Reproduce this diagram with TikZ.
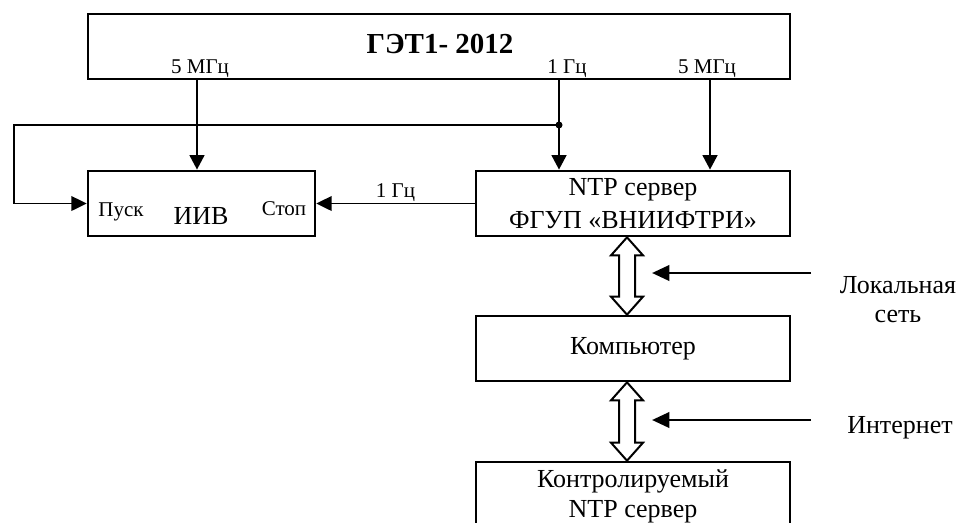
\documentclass[tikz,border=0pt]{standalone}
\usepackage{fontspec}
\setmainfont{Liberation Serif}
\usetikzlibrary{arrows.meta,calc}

\tikzset{every picture/.style={line width=0.75pt}}
\tikzset{
  blockbox/.style={draw, line width=2pt, minimum height=48.75pt, inner sep=0pt},
  sig/.style={line width=2.1pt, -{Triangle[length=11pt,width=11pt]}},
  thinline/.style={line width=1.3pt},
  thinarr/.style={line width=1.3pt, -{Triangle[length=11.5pt,width=11pt]}},
  netarr/.style={line width=2.1pt, -{Triangle[length=13pt,width=11.5pt]}},
  hollow/.style={draw, line width=1.5pt, fill=white, line join=miter},
  bigtxt/.style={font=\fontsize{19.5}{24.75}\selectfont},
  smalltxt/.style={font=\fontsize{15.75}{18}\selectfont},
}
% hollow two-way arrow: top tip, bottom tip
\newcommand{\twoway}[2]{%
  \draw[hollow] (#1) -- ++(16,18) -- ++(-8,0) -- ($(#2)+(8,-18)$) -- ++(8,0) -- (#2)
    -- ++(-16,-18) -- ++(8,0) -- ($(#1)+(-8,18)$) -- ++(-8,0) -- cycle;}

\begin{document}
\begin{tikzpicture}[x=0.75pt,y=0.75pt,yscale=-1,xscale=1]
		\useasboundingbox (0,0) rectangle (962,522);
		\clip (0,0) rectangle (962,522);
		
		%Shape: Rectangle
		\node [blockbox, minimum width=526.5pt] (get) at (439,46.5) {};
		%Shape: Rectangle
		\node [blockbox, minimum width=170.25pt] (iiv) at (201.5,203.5) {};
		%Shape: Rectangle
		\node [blockbox, minimum width=235.5pt, bigtxt, align=center] (ntp) at (633,203.5) {NTP сервер\\ФГУП «ВНИИФТРИ»};
		%Shape: Rectangle
		\node [blockbox, minimum width=235.5pt, bigtxt] (comp) at (633,348.5) {Компьютер};
		%Shape: Rectangle
		\node [blockbox, minimum width=235.5pt, minimum height=60pt] (ctrl) at (633,502) {};
		
		% Text Node
		\node [anchor=base, font=\bfseries\fontsize{21.75}{24}\selectfont] (title) at (440,53) {ГЭТ1- 2012};
		% Text Node
		\node [anchor=base, smalltxt] (fa) at (200,73) {5 МГц};
		% Text Node
		\node [anchor=base, smalltxt] (fb) at (567,73) {1 Гц};
		% Text Node
		\node [anchor=base, smalltxt] (fc) at (707,73) {5 МГц};
		% Text Node
		\node [anchor=base, bigtxt] (iivtxt) at (201,224) {ИИВ};
		% Text Node
		\node [anchor=base, smalltxt] (start) at (121,216) {Пуск};
		% Text Node
		\node [anchor=base, smalltxt] (stop) at (284,215) {Стоп};
		% Text Node
		\node [anchor=base, bigtxt, align=center, font=\fontsize{19.5}{22.5}\selectfont] (ctrltxt) at (633,517) {Контролируемый\\NTP сервер};
		% Text Node
		\node [anchor=base, bigtxt, align=center, font=\fontsize{19.5}{21.75}\selectfont] (lan) at (898,322) {Локальная\\сеть};
		% Text Node
		\node [anchor=base, bigtxt] (inet) at (900,433) {Интернет};
		
		\coordinate (xa) at (197,0);
		\coordinate (xb) at (559,0);
		\coordinate (xc) at (710,0);
		\coordinate (xd) at (627,0);
		\coordinate (tap) at (559,125);
		\coordinate (loop) at (14,125);
		\coordinate (lanfrom) at (811,273);
		\coordinate (lanto) at (652,273);
		\coordinate (inetfrom) at (811,420);
		\coordinate (inetto) at (652,420);
		
		%Straight Lines
		\draw [sig] (get.south -| xa) -- (iiv.north -| xa);
		%Straight Lines
		\draw [sig] (get.south -| xb) -- (ntp.north -| xb);
		%Straight Lines
		\draw [sig] (get.south -| xc) -- (ntp.north -| xc);
		%Straight Lines
		\draw [thinarr] (tap) -- (loop) |- (iiv.west);
		\fill (tap) circle (3.5);
		%Straight Lines
		\draw [thinarr] (ntp.west) -- node [above, smalltxt, inner sep=1pt] (fd) {1 Гц} (iiv.east);
		
		%Shape: Double Arrow
		\twoway{ntp.south -| xd}{comp.north -| xd}
		%Shape: Double Arrow
		\twoway{comp.south -| xd}{ctrl.north -| xd}
		
		%Straight Lines
		\draw [netarr] (lanfrom) -- (lanto);
		%Straight Lines
		\draw [netarr] (inetfrom) -- (inetto);
	\end{tikzpicture}
\end{document}
